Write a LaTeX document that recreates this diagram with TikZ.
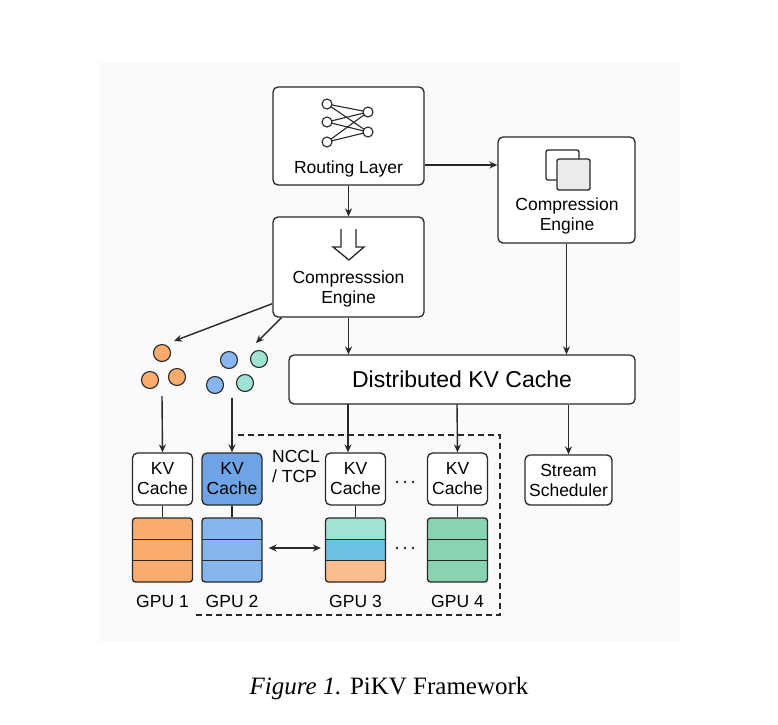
\documentclass[tikz,border=0pt]{standalone}
\usepackage{fontspec}
\setmainfont{Liberation Serif}
\setsansfont{Liberation Sans}
\usepackage{tikz}
\usetikzlibrary{positioning,arrows.meta}

\definecolor{orangeC}{RGB}{250,172,110}
\definecolor{blueC}{RGB}{135,182,238}
\definecolor{blueD}{RGB}{110,164,230}
\definecolor{tealC}{RGB}{160,226,212}
\definecolor{tealD}{RGB}{110,192,226}
\definecolor{greenC}{RGB}{136,212,176}
\definecolor{edgeC}{RGB}{40,40,40}

\tikzset{
  box/.style={draw=edgeC,line width=1.3pt,rounded corners=5pt,fill=white,align=center,font=\sffamily\fontsize{17.5}{20}\selectfont},
  kv/.style={box,minimum width=60pt,minimum height=52pt,inner sep=1pt},
  dot/.style={circle,draw=edgeC,line width=1.1pt,minimum size=17pt,inner sep=0pt},
  arr/.style={-{Stealth[length=8pt,width=7pt]},line width=1.4pt,draw=edgeC},
  lbl/.style={font=\sffamily\fontsize{17.5}{20}\selectfont}
}

\begin{document}
\begin{tikzpicture}[x=1pt,y=1pt,yscale=-1]
\useasboundingbox (0,0) rectangle (778,724);
\fill[black!2] (100,62) rectangle (680,642);

%Boxes
\node[box,minimum width=151pt,minimum height=98pt] (route) at (348.5,136) {};
\node[lbl,anchor=base] (routetxt) at (348.5,173) {Routing Layer};
\node[box,minimum width=137pt,minimum height=106pt] (ceR) at (566.5,190) {};
\node[lbl,align=center] (ceRtxt) at (567,216) {Compression\\Engine};
\node[box,minimum width=151pt,minimum height=100pt] (ceL) at (348.5,267) {};
\node[lbl,align=center] (ceLtxt) at (348.5,289) {Compresssion\\Engine};
\node[box,minimum width=346pt,minimum height=49pt,font=\sffamily\fontsize{23}{26}\selectfont] (dkv) at (462,379.5) {Distributed KV Cache};

%Network icon
\foreach \i/\y in {1/104,2/122,3/142} \coordinate (in\i) at (327,\y);
\foreach \j/\y in {1/112,2/132} \coordinate (out\j) at (368,\y);
\foreach \i in {1,2,3} \foreach \j in {1,2} \draw[line width=1.1pt,edgeC] (in\i) -- (out\j);
\foreach \i in {1,2,3} \node[dot,fill=white,minimum size=10pt] (n\i) at (in\i) {};
\foreach \j in {1,2} \node[dot,fill=white,minimum size=10pt] (m\j) at (out\j) {};

%Overlapping squares icon
\draw[line width=1.3pt,edgeC,rounded corners=2pt] (546,150) rectangle (579,180);
\draw[line width=1.3pt,edgeC,rounded corners=2pt,fill=black!8] (557,159) rectangle (590,190);

%Down arrow icon
\draw[line width=1.3pt,edgeC,line join=miter] (341,229) -- (341,247) -- (333,247) -- (349,260) -- (364,247) -- (356,247) -- (356,229);

%Circles
\node[dot,fill=orangeC] (o1) at (162,353) {};
\node[dot,fill=orangeC] (o2) at (150,380) {};
\node[dot,fill=orangeC] (o3) at (177,377) {};
\node[dot,fill=blueC] (b1) at (229,360) {};
\node[dot,fill=tealC] (t1) at (259,359) {};
\node[dot,fill=blueC] (b2) at (215,385) {};
\node[dot,fill=tealC] (t2) at (245,383) {};
\coordinate (grp1) at (162,396);
\coordinate (grp2) at (232,398);
\coordinate (tip1) at (174,341);
\coordinate (tip2) at (256,343);
\coordinate (down3) at (348,404);
\coordinate (down4) at (457,404);

%KV caches
\node[kv] (kv1) at (162.5,479) {KV\\Cache};
\node[kv,fill=blueD] (kv2) at (232,479) {KV\\Cache};
\node[kv] (kv3) at (355.5,479) {KV\\Cache};
\node[kv] (kv4) at (457.5,479) {KV\\Cache};
\node[kv,minimum width=87pt,minimum height=50pt] (sched) at (568.5,480) {Stream\\Scheduler};

%GPU stacks
\foreach \n/\x/\ca/\cb/\cc in {1/162.5/orangeC/orangeC/orangeC,2/232/blueC/blueC/blueC,3/355.5/tealC/tealD/orangeC!80,4/457.5/greenC/greenC/greenC}{
  \fill[\ca,rounded corners=3pt] (\x-30,518) rectangle (\x+30,540);
  \fill[\cb] (\x-30,539) rectangle (\x+30,561);
  \fill[\cc,rounded corners=3pt] (\x-30,560) rectangle (\x+30,582);
  \node[draw=edgeC,line width=1.3pt,rounded corners=3pt,minimum width=60pt,minimum height=64pt] (gpu\n) at (\x,550) {};
  \draw[line width=1.3pt,edgeC] (\x-30,539.5) -- (\x+30,539.5) (\x-30,560.5) -- (\x+30,560.5);
  \draw[line width=1.1pt,edgeC] (kv\n.south) -- (gpu\n.north);
  \node[lbl,anchor=base] (glbl\n) at (\x,607) {GPU \n};
}

%Arrows
\draw[arr] (route.south) -- (ceL.north);
\draw[arr] (route.east |- 0,165) -- (ceR.west |- 0,165);
\draw[arr] (ceL.south) -- (dkv.north -| ceL.south);
\draw[arr] (ceR.south) -- (dkv.north -| ceR.south);
\draw[arr] (ceL.south west) ++(0,-14) -- (tip1);
\draw[arr] (ceL.south west) ++(9,0) -- (tip2);
\draw[arr] (grp1) -- (kv1.north);
\draw[arr] (grp2) -- (kv2.north);
\draw[arr] (down3) -- (down3 |- kv3.north);
\draw[arr] (down4) -- (kv4.north);
\draw[arr] (dkv.south -| sched.north) -- (sched.north);
\draw[{Stealth[length=8pt,width=7pt]}-{Stealth[length=8pt,width=7pt]},line width=1.3pt,edgeC] (gpu2.east) ++(6,-2) -- ([shift={(-4,-2)}]gpu3.west);

%Dashed region
\draw[line width=1.3pt,edgeC,dash pattern=on 6pt off 4pt] (238,435) -- (500,435) -- (500,615) -- (193,615);

% Text Node
\node[lbl,align=left] (nccl) at (296,466) {NCCL\\/ TCP};
\foreach \k/\y in {A/482,B/548}
  \foreach \dx in {-8,0,8} \fill[edgeC] (405+\dx,\y) circle (1.4pt);
\node[font=\fontsize{25}{30}\selectfont] (cap) at (389,688) {\textit{Figure 1.} PiKV Framework};
\end{tikzpicture}
\end{document}
